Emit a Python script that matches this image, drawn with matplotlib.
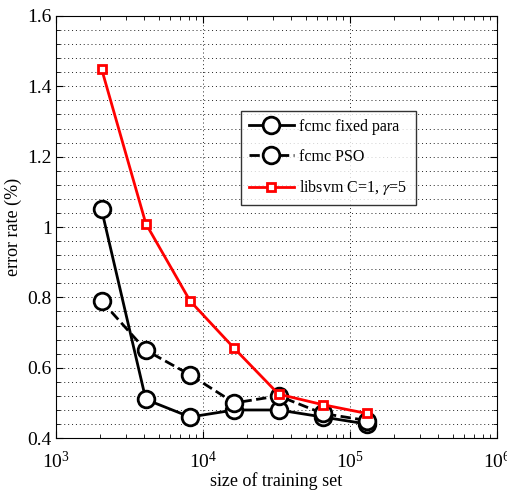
# error rate vs training set size, fcmc vs libsvm
import matplotlib.pyplot as plt
from matplotlib.ticker import MultipleLocator, LogLocator, NullFormatter

plt.rcParams['font.family'] = 'Liberation Serif'
plt.rcParams['mathtext.fontset'] = 'stix'

sizes = [2048, 4096, 8192, 16384, 32768, 65536, 131072]
fcmc_fixed = [1.05, 0.51, 0.46, 0.48, 0.48, 0.46, 0.44]
fcmc_pso = [0.79, 0.65, 0.58, 0.50, 0.52, 0.47, 0.45]
libsvm = [1.45, 1.01, 0.79, 0.655, 0.525, 0.495, 0.47]

fig = plt.figure(figsize=(5.07, 4.99), dpi=100)
ax = fig.add_axes([0.110, 0.122, 0.870, 0.846])

ax.plot(sizes, fcmc_fixed, 'k-', lw=2, marker='o', ms=12, mfc='white',
        mec='black', mew=2, label='fcmc fixed para')
ax.plot(sizes, fcmc_pso, 'k--', lw=2, marker='o', ms=12, mfc='white',
        mec='black', mew=2, label='fcmc PSO')
ax.plot(sizes, libsvm, '-', color='red', lw=2, marker='s', ms=6, mfc='white',
        mec='red', mew=2, label=r'libsvm C=1, $\gamma$=5')

ax.set_xscale('log')
ax.set_xlim(1e3, 1e6)
ax.set_ylim(0.4, 1.6)
ax.yaxis.set_minor_locator(MultipleLocator(0.04))
ax.xaxis.set_major_locator(LogLocator(base=10))
ax.xaxis.set_minor_locator(LogLocator(base=10, subs=range(2, 10)))
ax.xaxis.set_minor_formatter(NullFormatter())
ax.set_yticks([0.4, 0.6, 0.8, 1.0, 1.2, 1.4, 1.6])
ax.set_yticklabels(['0.4', '0.6', '0.8', '1', '1.2', '1.4', '1.6'])

dots = (0, (1, 3))
ax.grid(True, which='major', axis='x', ls=dots, color='#222222', lw=0.7)
ax.grid(True, which='both', axis='y', ls=dots, color='#222222', lw=0.7)
ax.tick_params(which='both', direction='in', top=True, right=True, labelsize=14)
ax.tick_params(which='major', length=5)
ax.tick_params(which='minor', length=3)
ax.tick_params(axis='x', pad=9)
ax.tick_params(axis='y', pad=3)

ax.set_xlabel('size of training set', fontsize=13, labelpad=0)
ax.set_ylabel('error rate (%)', fontsize=13, labelpad=4)

leg = ax.legend(loc='upper left', bbox_to_anchor=(0.42, 0.775), fontsize=11.5,
                fancybox=False, edgecolor='black', handlelength=2.8,
                borderpad=0.5, labelspacing=0.85, handletextpad=0.35,
                borderaxespad=0)
leg.get_frame().set_linewidth(1.0)

plt.savefig('out.png', dpi=100)
